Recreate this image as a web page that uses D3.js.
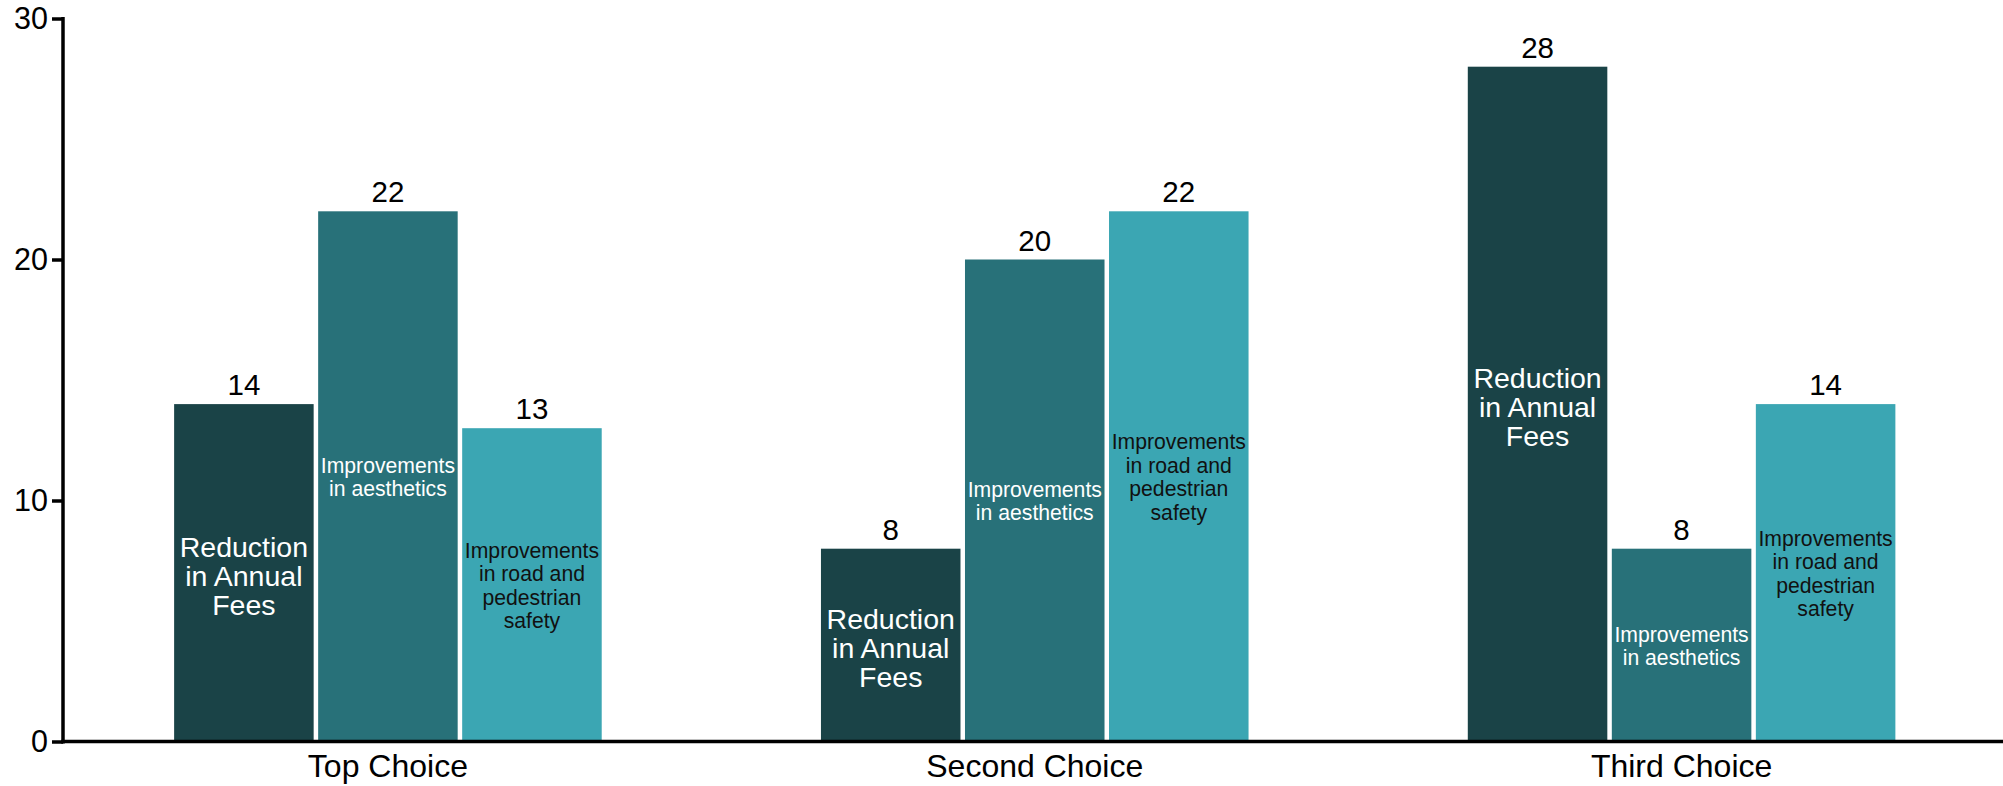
<!DOCTYPE html>
<html>
<head>
<meta charset="utf-8">
<script src="https://cdn.jsdelivr.net/npm/d3@7/dist/d3.min.js"></script>
<style>
  html, body { margin: 0; padding: 0; background: #fff; }
  svg { display: block; font-family: "Liberation Sans", Arial, Helvetica, sans-serif; }
</style>
</head>
<body>
<svg id="chart" width="2003" height="786"></svg>
<script>
// ---- data ----
const categories = ["Top Choice", "Second Choice", "Third Choice"];
const seriesNames = ["Reduction in Annual Fees", "Improvements in aesthetics", "Improvements in road and pedestrian safety"];
const reductionValues = [14, 8, 28];
const aestheticsValues = [22, 20, 8];
const safetyValues = [13, 22, 14];
const yTickValues = [0, 10, 20, 30];
const seriesLines = [
  ["Reduction", "in Annual", "Fees"],
  ["Improvements", "in aesthetics"],
  ["Improvements", "in road and", "pedestrian", "safety"]
];

// ---- styles ----
const colors = ["#1a4347", "#287179", "#3ba6b3"];
const labelColors = ["#ffffff", "#ffffff", "#111111"];
const labelSizes = [28.5, 21.2, 21.2];
const labelLineHeights = [29, 23, 23.5];
const labelOffsets = [13, 8, 8];

const values = [reductionValues, aestheticsValues, safetyValues];
const rows = [];
categories.forEach((c, ci) => {
  seriesNames.forEach((s, si) => rows.push({ cat: c, si, value: values[si][ci] }));
});

const svg = d3.select("#chart");
const axisX = 63, x0px = 64.5, x1px = 2005;
const yTop = 18.5, yBottom = 741.5;

const x = d3.scaleBand().domain(categories).range([x0px, x1px]).paddingInner(0.332).paddingOuter(0.166);
const xs = d3.scaleBand().domain(d3.range(seriesNames.length)).range([0, x.bandwidth()]).padding(0);
const y = d3.scaleLinear().domain([0, 30]).range([yBottom, yTop]);

const gap = 4.5;

// bars
const g = svg.append("g");
g.selectAll("rect.bar").data(rows).join("rect")
  .attr("class", "bar")
  .attr("x", d => x(d.cat) + xs(d.si) + gap / 2)
  .attr("width", xs.bandwidth() - gap)
  .attr("y", d => y(d.value))
  .attr("height", d => y(0) - y(d.value))
  .attr("fill", d => colors[d.si]);

// value labels
g.selectAll("text.val").data(rows).join("text")
  .attr("class", "val")
  .attr("x", d => x(d.cat) + xs(d.si) + xs.bandwidth() / 2)
  .attr("y", d => y(d.value) - 9)
  .attr("text-anchor", "middle")
  .attr("font-size", 29.5)
  .attr("fill", "#000")
  .text(d => d.value);

// in-bar labels
rows.forEach(d => {
  const lines = seriesLines[d.si];
  const cx = x(d.cat) + xs(d.si) + xs.bandwidth() / 2;
  const cy = (y(d.value) + y(0)) / 2;
  const lh = labelLineHeights[d.si];
  const t = g.append("text")
    .attr("text-anchor", "middle")
    .attr("font-size", labelSizes[d.si])
    .attr("fill", labelColors[d.si]);
  lines.forEach((ln, i) => {
    t.append("tspan")
      .attr("x", cx)
      .attr("y", cy + (i - (lines.length - 1) / 2) * lh + labelOffsets[d.si])
      .text(ln);
  });
});

// y axis
const yAxis = d3.axisLeft(y).tickValues(yTickValues).tickSize(11).tickPadding(4).tickFormat(d3.format("d"));
const ya = svg.append("g").attr("transform", `translate(${axisX},0)`).call(yAxis);
ya.select(".domain").remove();
ya.selectAll(".tick line").attr("stroke", "#000").attr("stroke-width", 3.5);
ya.selectAll(".tick text").attr("font-size", 30.5).attr("fill", "#000")
  .attr("font-family", "'Liberation Sans', Arial, Helvetica, sans-serif");
svg.append("line").attr("x1", axisX).attr("x2", axisX).attr("y1", yTop - 1.5).attr("y2", yBottom + 2)
  .attr("stroke", "#000").attr("stroke-width", 3.5);

// x axis
const xAxis = d3.axisBottom(x).tickSize(0).tickPadding(13);
const xa = svg.append("g").attr("transform", `translate(0,${yBottom})`).call(xAxis);
xa.select(".domain").remove();
xa.selectAll(".tick text").attr("font-size", 32).attr("fill", "#000")
  .attr("font-family", "'Liberation Sans', Arial, Helvetica, sans-serif");
svg.append("line").attr("x1", axisX - 1.75).attr("x2", 2003).attr("y1", yBottom).attr("y2", yBottom)
  .attr("stroke", "#000").attr("stroke-width", 3.5);
</script>
</body>
</html>
